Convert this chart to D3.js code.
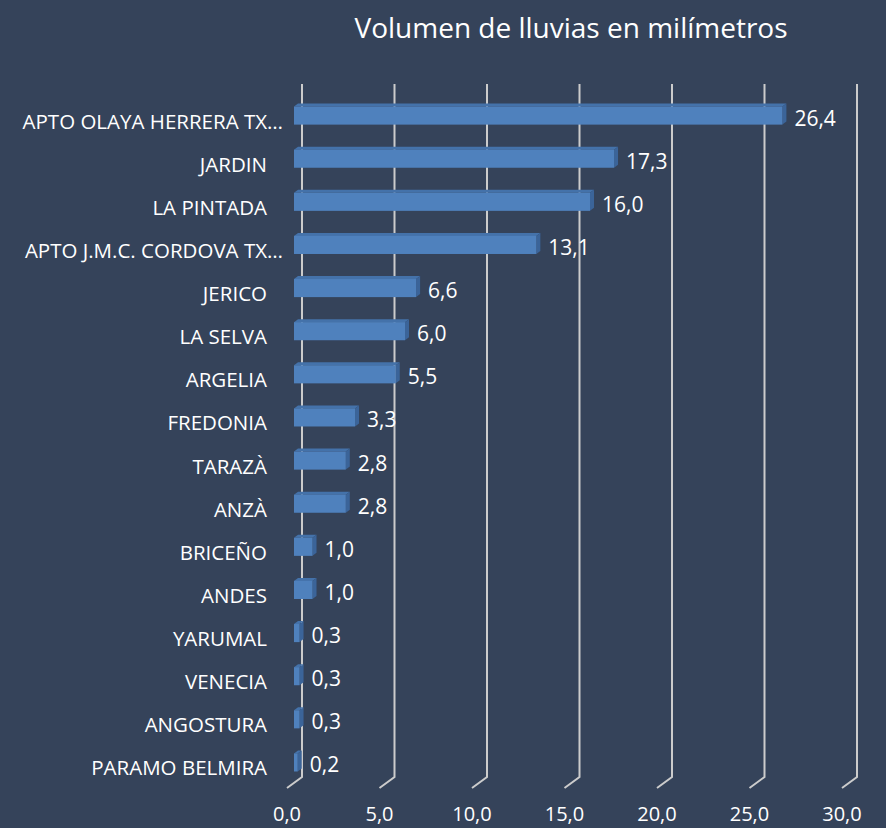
<!DOCTYPE html>
<html>
<head>
<meta charset="utf-8">
<script src="https://cdn.jsdelivr.net/npm/d3@7"></script>
<style>
  body { margin: 0; background: #35435a; }
  text { font-family: "Open Sans", sans-serif; fill: #ffffff; }
</style>
</head>
<body>
<div id="chart"></div>
<script>
var stations = ["APTO OLAYA HERRERA TX…", "JARDIN", "LA PINTADA", "APTO J.M.C. CORDOVA TX…",
    "JERICO", "LA SELVA", "ARGELIA", "FREDONIA", "TARAZÀ", "ANZÀ", "BRICEÑO", "ANDES",
    "YARUMAL", "VENECIA", "ANGOSTURA", "PARAMO BELMIRA"];
var rain = [26.4, 17.3, 16.0, 13.1, 6.6, 6.0, 5.5, 3.3, 2.8, 2.8, 1.0, 1.0, 0.3, 0.3, 0.3, 0.2];
var ticks = [0, 5, 10, 15, 20, 25, 30];

var W = 886, H = 828;
var depthX = 15, depthY = 11;   // 3D offset of back wall
var fmt = function(v) { return v.toFixed(1).replace(".", ","); };

var svg = d3.select("#chart").append("svg")
    .attr("width", W).attr("height", H);

svg.append("rect").attr("width", W).attr("height", H).attr("fill", "#35435a");

// front scale (floor front edge), back wall is shifted by depth
var x = d3.scaleLinear().domain([0, 30]).range([287, 842]);
var y = d3.scaleBand().domain(stations).range([94, 784]).paddingInner(0.58).paddingOuter(0.29);

var wallTop = 84, floorY = 777;

// gridlines on back wall + floor diagonal
var grid = svg.append("g");
ticks.forEach(function(t) {
    var bx = x(t) + depthX;
    grid.append("path")
        .attr("d", "M" + bx + "," + wallTop + "V" + floorY + "L" + x(t) + "," + (floorY + depthY))
        .attr("fill", "none")
        .attr("stroke", "#cccccc")
        .attr("stroke-width", 2);
});

// x tick labels
svg.append("g").selectAll("text")
    .data(ticks).enter().append("text")
    .attr("x", function(d) { return x(d); })
    .attr("y", 821)
    .attr("text-anchor", "middle")
    .attr("font-size", 20)
    .text(fmt);

// bars, drawn at mid depth
var mid = 7, bd = 4, bh = 3;
var bars = svg.append("g").selectAll("g")
    .data(stations).enter().append("g");

bars.each(function(d, i) {
    var g = d3.select(this);
    var x0 = x(0) + mid, x1 = x(rain[i]) + mid;
    var y0 = y(d), hgt = y.bandwidth();
    // top face
    g.append("path")
        .attr("d", "M" + x0 + "," + y0 + "L" + (x0 + bd) + "," + (y0 - bh) +
            "L" + (x1 + bd) + "," + (y0 - bh) + "L" + x1 + "," + y0 + "Z")
        .attr("fill", "#4472aa");
    // side face
    g.append("path")
        .attr("d", "M" + x1 + "," + y0 + "L" + (x1 + bd) + "," + (y0 - bh) +
            "L" + (x1 + bd) + "," + (y0 + hgt - bh) + "L" + x1 + "," + (y0 + hgt) + "Z")
        .attr("fill", "#3b6499");
    // front face
    g.append("rect")
        .attr("x", x0).attr("y", y0)
        .attr("width", x1 - x0).attr("height", hgt)
        .attr("fill", "#4f81bd");
    // value label
    g.append("text")
        .attr("x", x1 + 12)
        .attr("y", y0 + hgt / 2 + 10)
        .attr("font-size", 21)
        .text(fmt(rain[i]));
});

// category labels
svg.append("g").selectAll("text")
    .data(stations).enter().append("text")
    .attr("x", function(d) { return d.slice(-1) === "…" ? 283 : 267; })
    .attr("y", function(d) { return y(d) + y.bandwidth() / 2 + 13; })
    .attr("text-anchor", "end")
    .attr("font-size", 20.5)
    .text(function(d) { return d; });

// title
svg.append("text")
    .attr("x", 571).attr("y", 38)
    .attr("text-anchor", "middle")
    .attr("font-size", 28)
    .text("Volumen de lluvias en milímetros");
</script>
</body>
</html>
